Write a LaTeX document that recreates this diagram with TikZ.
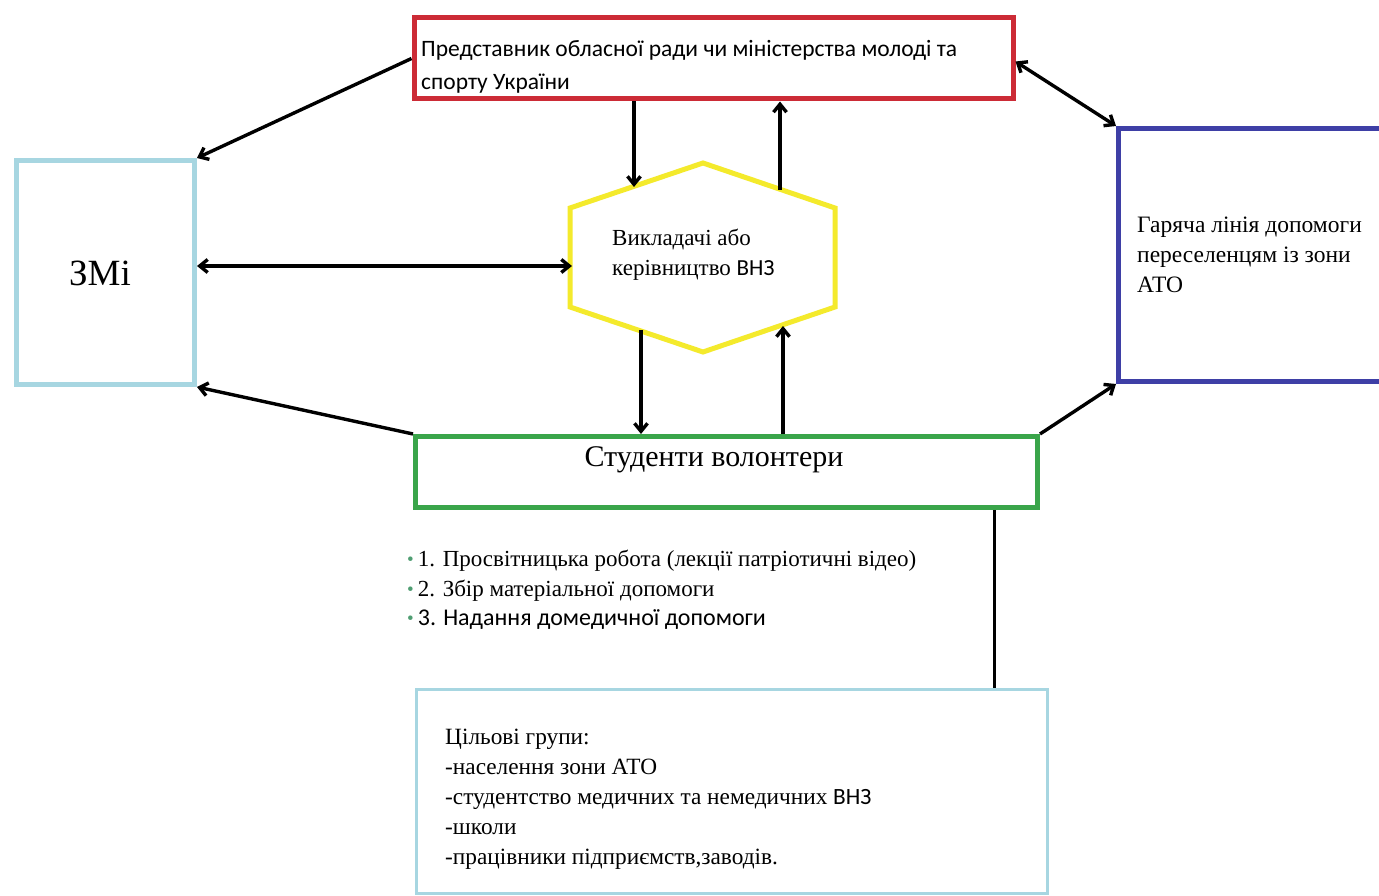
\documentclass[tikz,border=0pt]{standalone}
\usepackage{fontspec}
\setmainfont{Liberation Serif}
\newfontfamily\serifn{Liberation Serif}
\newfontfamily\calib{Carlito}
\usetikzlibrary{arrows.meta}
\definecolor{redc}{HTML}{CC2B36}
\definecolor{lblue}{HTML}{A7D6E1}
\definecolor{dblue}{HTML}{3E3FA6}
\definecolor{gre}{HTML}{3AA54A}
\definecolor{yel}{HTML}{F4EA2C}
\definecolor{bgreen}{HTML}{4F9E72}
\newcommand\gb{\raisebox{1pt}{\color{bgreen}\fontsize{19}{19}\selectfont\textbullet}\hspace{4pt}}
\begin{document}
\begin{tikzpicture}[x=1pt,y=-1pt,
  box/.style={draw, rectangle, inner sep=0pt, fill=white},
  txt/.style={inner sep=0pt, align=left, anchor=north west},
  arr/.style={line width=3.4pt, -{Straight Barb[length=8pt,width=13pt]}},
  darr/.style={line width=3.4pt, {Straight Barb[length=8pt,width=13pt]}-{Straight Barb[length=8pt,width=13pt]}},
  plain/.style={line width=3pt}]
\useasboundingbox (0,0) rectangle (1379,896);
\fill[white] (0,0) rectangle (1379,896);

% boxes
\node[box, draw=redc, line width=5pt, minimum width=599pt, minimum height=81pt] (rep) at (713.5,58.5) {};
\node[box, draw=lblue, line width=5pt, minimum width=178pt, minimum height=224pt] (zmi) at (105.5,272.5) {};
\node[box, draw=dblue, line width=5pt, minimum width=266.5pt, minimum height=253pt] (hot) at (1251.75,255) {};
\node[box, draw=gre, line width=5pt, minimum width=622pt, minimum height=71pt] (stud) at (726.5,472) {};
\node[box, draw=lblue, line width=3pt, minimum width=631pt, minimum height=204pt] (grp) at (732,791.5) {};

% hexagon
\coordinate (hTL) at (570,208);
\coordinate (hT) at (703,163);
\coordinate (hTR) at (835,208);
\coordinate (hBR) at (835,307);
\coordinate (hB) at (703,352);
\coordinate (hBL) at (570,307);
\draw[yel, line width=5pt, fill=white, line join=miter] (hTL) -- (hT) -- (hTR) -- (hBR) -- (hB) -- (hBL) -- cycle;
\coordinate (hin1) at (634,187);
\coordinate (hout1) at (780,190);
\coordinate (hout2) at (641,330);
\coordinate (hin2) at (783,326);
\coordinate (hleft) at (572,266);

% texts
\node[txt, font=\calib\fontsize{23.5}{33}\selectfont] (repT) at (421,40) {Представник обласної ради чи міністерства молоді та\\спорту України};
\node[txt, font=\serifn\fontsize{23}{30}\selectfont] (hexT) at (612,229) {Викладачі або\\керівництво {\calib ВНЗ}};
\node[txt, font=\serifn\fontsize{23.5}{30}\selectfont] (hotT) at (1137,217) {Гаряча лінія допомоги\\переселенцям із зони\\АТО};
\node[inner sep=0pt, font=\serifn\fontsize{37}{37}\selectfont] (zmiT) at (100,273) {ЗМі};
\node[inner sep=0pt, font=\serifn\fontsize{30}{30}\selectfont] (studT) at (714,460) {Студенти волонтери};
\node[txt, font=\serifn\fontsize{23}{29.5}\selectfont] (list) at (407,550) {\gb 1. Просвітницька робота (лекції патріотичні відео)\\\gb 2. Збір матеріальної допомоги\\\gb{\calib\fontsize{24}{29.5}\selectfont 3. Надання домедичної допомоги}};
\node[txt, font=\serifn\fontsize{23.3}{30}\selectfont] (grpT) at (445,729) {Цільові групи:\\-населення зони АТО\\-студентство медичних та немедичних {\calib ВНЗ}\\-школи\\-працівники підприємств,заводів.};

% connectors
\draw[arr] (rep.west) -- (zmi.north east);
\draw[arr] (rep.south -| hin1) -- (hin1);
\draw[arr] (hout1) -- (rep.south -| hout1);
\draw[darr] (zmi.east |- hleft) -- (hleft);
\draw[arr] (hout2) -- (stud.north -| hout2);
\draw[arr] (stud.north -| hin2) -- (hin2);
\draw[arr] (stud.north west) -- (zmi.south east);
\draw[darr] ([yshift=-3pt]rep.east) -- (hot.north west);
\draw[arr] (stud.north east) -- (hot.south west);
\coordinate (ln) at (994,600);
\draw[plain] (stud.south -| ln) -- (grp.north -| ln);
\end{tikzpicture}
\end{document}
